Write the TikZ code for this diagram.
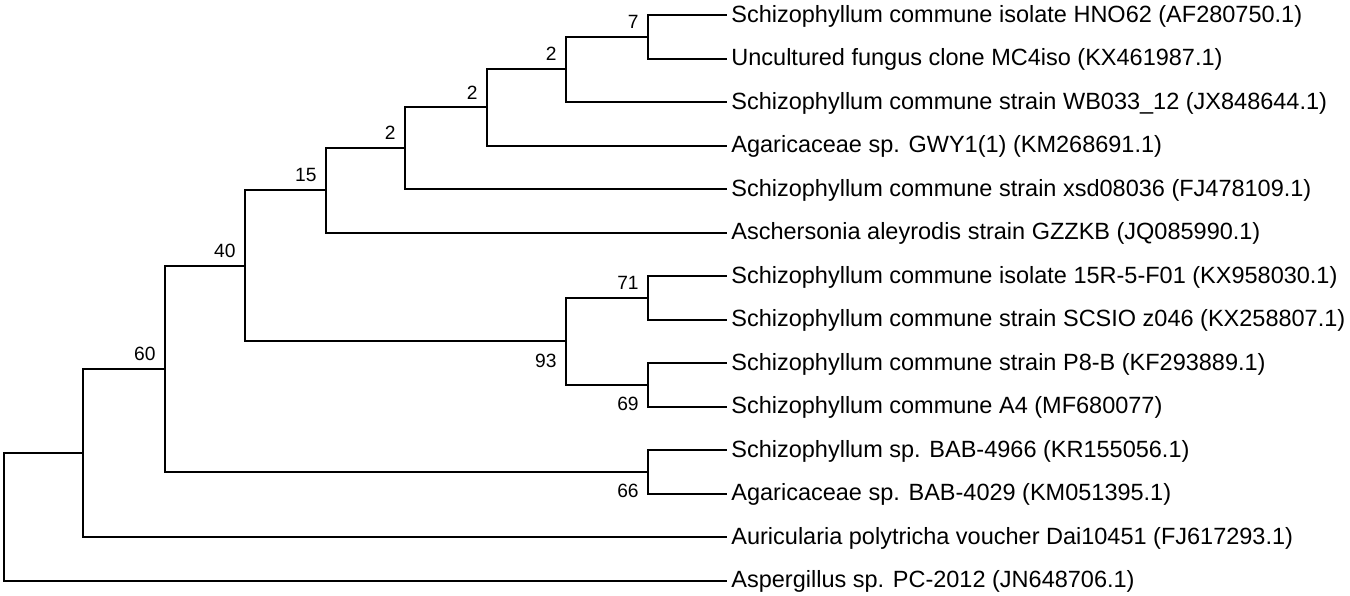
\documentclass[tikz,border=0pt]{standalone}
\usepackage{fontspec}
\setmainfont{Liberation Sans}
\begin{document}
\begin{tikzpicture}[x=0.5pt,y=-0.5pt,
  branch/.style={line width=1pt,line cap=rect},
  leaflab/.style={anchor=base west,inner sep=0pt,font=\fontsize{11.75}{14}\selectfont},
  bsa/.style={anchor=south east,inner sep=0pt,font=\fontsize{9.6}{11}\selectfont},
  bsb/.style={anchor=north east,inner sep=0pt,font=\fontsize{9.6}{11}\selectfont}]
\useasboundingbox (0,0) rectangle (1350,595);
% leaf tips
\coordinate (t1) at (726,15);
\coordinate (t2) at (726,58.5);
\coordinate (t3) at (726,102);
\coordinate (t4) at (726,145.5);
\coordinate (t5) at (726,189);
\coordinate (t6) at (726,232.5);
\coordinate (t7) at (726,276);
\coordinate (t8) at (726,319.5);
\coordinate (t9) at (726,363);
\coordinate (t10) at (726,406.5);
\coordinate (t11) at (726,450);
\coordinate (t12) at (726,493.5);
\coordinate (t13) at (726,537);
\coordinate (t14) at (726,580.5);
% internal nodes
\coordinate (n7) at (648,36.75);
\coordinate (n2a) at (566,69.375);
\coordinate (n2b) at (487,107.44);
\coordinate (n2c) at (405,148.22);
\coordinate (n15) at (326,190.36);
\coordinate (n71) at (648,297.75);
\coordinate (n69) at (648,384.75);
\coordinate (n93) at (566,341.25);
\coordinate (n40) at (245,265.8);
\coordinate (n66) at (648,471.75);
\coordinate (n60) at (165,368.78);
\coordinate (n83) at (83,452.9);
\coordinate (root) at (4,516.7);
% branches
\draw[branch] (n7) |- (t1) (n7) |- (t2);
\draw[branch] (n2a) |- (n7) (n2a) |- (t3);
\draw[branch] (n2b) |- (n2a) (n2b) |- (t4);
\draw[branch] (n2c) |- (n2b) (n2c) |- (t5);
\draw[branch] (n15) |- (n2c) (n15) |- (t6);
\draw[branch] (n71) |- (t7) (n71) |- (t8);
\draw[branch] (n69) |- (t9) (n69) |- (t10);
\draw[branch] (n93) |- (n71) (n93) |- (n69);
\draw[branch] (n40) |- (n15) (n40) |- (n93);
\draw[branch] (n66) |- (t11) (n66) |- (t12);
\draw[branch] (n60) |- (n40) (n60) |- (n66);
\draw[branch] (n83) |- (n60) (n83) |- (t13);
\draw[branch] (root) |- (n83) (root) |- (t14);
% leaf labels
\node[leaflab] (L1) at (731,22) {Schizophyllum commune isolate HNO62 (AF280750.1)};
\node[leaflab] (L2) at (731,65.5) {Uncultured fungus clone MC4iso (KX461987.1)};
\node[leaflab] (L3) at (731,109) {Schizophyllum commune strain WB033\_12 (JX848644.1)};
\node[leaflab] (L4) at (731,152.5) {Agaricaceae sp. GWY1(1) (KM268691.1)};
\node[leaflab] (L5) at (731,196) {Schizophyllum commune strain xsd08036 (FJ478109.1)};
\node[leaflab] (L6) at (731,239.5) {Aschersonia aleyrodis strain GZZKB (JQ085990.1)};
\node[leaflab] (L7) at (731,283) {Schizophyllum commune isolate 15R-5-F01 (KX958030.1)};
\node[leaflab] (L8) at (731,326.5) {Schizophyllum commune strain SCSIO z046 (KX258807.1)};
\node[leaflab] (L9) at (731,370) {Schizophyllum commune strain P8-B (KF293889.1)};
\node[leaflab] (L10) at (731,413.5) {Schizophyllum commune A4 (MF680077)};
\node[leaflab] (L11) at (731,457) {Schizophyllum sp. BAB-4966 (KR155056.1)};
\node[leaflab] (L12) at (731,500.5) {Agaricaceae sp. BAB-4029 (KM051395.1)};
\node[leaflab] (L13) at (731,544) {Auricularia polytricha voucher Dai10451 (FJ617293.1)};
\node[leaflab] (L14) at (731,587.5) {Aspergillus sp. PC-2012 (JN648706.1)};
% bootstrap labels
\node[bsa] (b7) at ([shift={(-9,-8)}]n7) {7};
\node[bsa] (b2a) at ([shift={(-9,-8)}]n2a) {2};
\node[bsa] (b2b) at ([shift={(-9,-8)}]n2b) {2};
\node[bsa] (b2c) at ([shift={(-9,-8)}]n2c) {2};
\node[bsa] (b15) at ([shift={(-9,-8)}]n15) {15};
\node[bsa] (b40) at ([shift={(-9,-8)}]n40) {40};
\node[bsa] (b60) at ([shift={(-9,-8)}]n60) {60};
\node[bsa] (b71) at ([shift={(-9,-8)}]n71) {71};
\node[bsb] (b93) at ([shift={(-9,12)}]n93) {93};
\node[bsb] (b69) at ([shift={(-9,12)}]n69) {69};
\node[bsb] (b66) at ([shift={(-9,12)}]n66) {66};
\end{tikzpicture}
\end{document}
